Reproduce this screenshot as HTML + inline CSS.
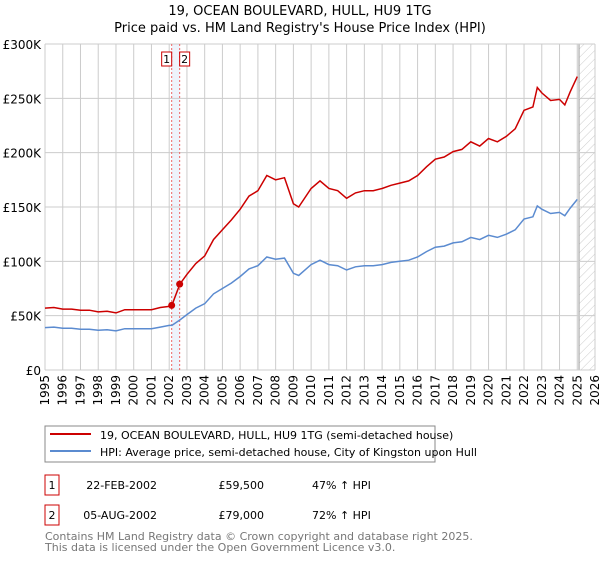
<!DOCTYPE html>
<html><head><meta charset="utf-8"><style>
body{margin:0;background:#fff;font-family:"DejaVu Sans","Liberation Sans",sans-serif;}
svg text{font-family:"DejaVu Sans","Liberation Sans",sans-serif;}
</style></head><body>
<svg width="600" height="560" viewBox="0 0 600 560">
<defs><pattern id="hatch" width="6" height="6" patternUnits="userSpaceOnUse" patternTransform="rotate(45)"><line x1="0" y1="0" x2="0" y2="6" stroke="#ccc" stroke-width="1"/></pattern></defs>
<text x="300" y="15" text-anchor="middle" font-size="13">19, OCEAN BOULEVARD, HULL, HU9 1TG</text>
<text x="300" y="32" text-anchor="middle" font-size="13">Price paid vs. HM Land Registry's House Price Index (HPI)</text>
<g id="grid"></g>
<g id="series"></g>
<g id="axes"></g>
<rect x="45" y="426" width="390" height="36" fill="#fff" stroke="#888"/>
<line x1="50" y1="434" x2="91" y2="434" stroke="#cc0000" stroke-width="2"/>
<text x="100" y="439" font-size="11">19, OCEAN BOULEVARD, HULL, HU9 1TG (semi-detached house)</text>
<line x1="50" y1="451" x2="91" y2="451" stroke="#5b8bd0" stroke-width="2"/>
<text x="100" y="456" font-size="11">HPI: Average price, semi-detached house, City of Kingston upon Hull</text>
<rect x="45" y="475" width="14" height="20" fill="none" stroke="#cc0000"/>
<text x="52" y="489" font-size="11" text-anchor="middle">1</text>
<text x="157" y="489" font-size="11" text-anchor="end">22-FEB-2002</text>
<text x="264" y="489" font-size="11" text-anchor="end">£59,500</text>
<text x="312" y="489" font-size="11">47% ↑ HPI</text>
<rect x="45" y="505" width="14" height="20" fill="none" stroke="#cc0000"/>
<text x="52" y="519" font-size="11" text-anchor="middle">2</text>
<text x="157" y="519" font-size="11" text-anchor="end">05-AUG-2002</text>
<text x="264" y="519" font-size="11" text-anchor="end">£79,000</text>
<text x="312" y="519" font-size="11">72% ↑ HPI</text>
<text x="45" y="540" font-size="11" fill="#777">Contains HM Land Registry data © Crown copyright and database right 2025.</text>
<text x="45" y="551" font-size="11" fill="#777">This data is licensed under the Open Government Licence v3.0.</text>
</svg>
<script>
const times=[1995,1995.5,1996,1996.5,1997,1997.5,1998,1998.5,1999,1999.5,2000,2000.5,2001,2001.5,2002,2002.15,2002.6,2003,2003.5,2004,2004.5,2005,2005.5,2006,2006.5,2007,2007.5,2008,2008.5,2009,2009.3,2010,2010.5,2011,2011.5,2012,2012.5,2013,2013.5,2014,2014.5,2015,2015.5,2016,2016.5,2017,2017.5,2018,2018.5,2019,2019.5,2020,2020.5,2021,2021.5,2022,2022.5,2022.75,2023,2023.5,2024,2024.3,2024.6,2025];
const hpiValues=[39,39.5,38.5,38.5,37.5,37.5,36.5,37,36,38,38,38,38,39.5,41,41,46,51,57,61,70,75,80,86,93,96,104,102,103,89,87,97,101,97,96,92,95,96,96,97,99,100,101,104,109,113,114,117,118,122,120,124,122,125,129,139,141,151,148,144,145,142,149,157];
const priceValues=[57,57.5,56,56,55,55,53.5,54,52.5,55.5,55.5,55.5,55.5,57.5,58.5,59.5,79,88,98,105,120,129,138,148,160,165,179,175,177,153,150,167,174,167,165,158,163,165,165,167,170,172,174,179,187,194,196,201,203,210,206,213,210,215,222,239,242,260,255,248,249,244,256,270];
const sales=[{t:2002.14,v:59.5,label:"1"},{t:2002.59,v:79,label:"2"}];
const yTicks=[0,50,100,150,200,250,300];
const yTickLabels=["£0","£50K","£100K","£150K","£200K","£250K","£300K"];
const xYears=[1995,1996,1997,1998,1999,2000,2001,2002,2003,2004,2005,2006,2007,2008,2009,2010,2011,2012,2013,2014,2015,2016,2017,2018,2019,2020,2021,2022,2023,2024,2025,2026];
const X0=45,X1=595,Y0=370,Y1=44;
const xs=t=>X0+(t-1995)/31*(X1-X0);
const ys=v=>Y0-v/300*(Y0-Y1);
const NS="http://www.w3.org/2000/svg";
function mk(tag,attrs,parent){const e=document.createElementNS(NS,tag);for(const k in attrs)e.setAttribute(k,attrs[k]);parent.appendChild(e);return e;}
const grid=document.getElementById('grid'),ser=document.getElementById('series'),ax=document.getElementById('axes');
// hatched future
const hz=mk('rect',{x:xs(2025.1),y:Y1,width:X1-xs(2025.1),height:Y0-Y1,fill:"url(#hatch)"},grid);


mk('line',{x1:xs(2025.1),y1:Y1,x2:xs(2025.1),y2:Y0,stroke:"#999"},grid);
// sale band
const band=mk('rect',{x:xs(sales[0].t),y:Y1,width:xs(sales[1].t)-xs(sales[0].t),height:Y0-Y1,fill:"#eef3fb"},grid);


xYears.forEach(y=>{mk('line',{x1:xs(y),y1:Y1,x2:xs(y),y2:Y0,stroke:"#ccc"},grid);
 const t=mk('text',{x:0,y:0,"font-size":"12",transform:`translate(${xs(y)+4},${Y0+5}) rotate(-90)`,"text-anchor":"end"},ax);t.textContent=y;
 
 });
yTicks.forEach((v,i)=>{mk('line',{x1:X0,y1:ys(v),x2:X1,y2:ys(v),stroke:"#ccc"},grid);
 const t=mk('text',{x:X0-4,y:ys(v)+5,"font-size":"12","text-anchor":"end"},ax);t.textContent=yTickLabels[i];
 
 });
sales.forEach(s=>{mk('line',{x1:xs(s.t),y1:Y1,x2:xs(s.t),y2:Y0,stroke:"#e66","stroke-dasharray":"2,2"},grid);});
const pts=arr=>times.map((t,i)=>xs(t).toFixed(1)+","+ys(arr[i]).toFixed(1)).join(" ");
const hl=mk('polyline',{points:pts(hpiValues),fill:"none",stroke:"#5b8bd0","stroke-width":"1.5"},ser);


const pl=mk('polyline',{points:pts(priceValues),fill:"none",stroke:"#cc0000","stroke-width":"1.5"},ser);


sales.forEach((s,i)=>{const c=mk('circle',{cx:xs(s.t),cy:ys(s.v),r:3.5,fill:"#cc0000"},ser);
 
 
 const bx=i===0?xs(s.t)-10:xs(s.t);
 mk('rect',{x:bx,y:52,width:10,height:14,fill:"#fff",stroke:"#cc0000"},ser);
 const t=mk('text',{x:bx+5,y:63,"font-size":"11","text-anchor":"middle"},ser);t.textContent=s.label;
 
 });
</script>
</body></html>
